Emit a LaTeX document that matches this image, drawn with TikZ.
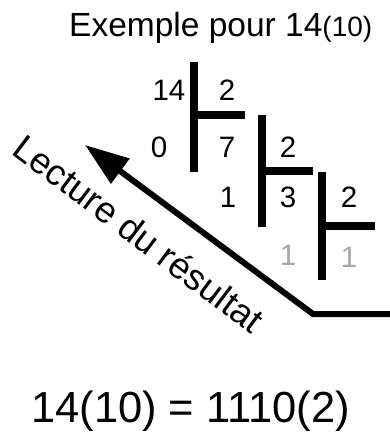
\documentclass[tikz,border=0pt]{standalone}
\usepackage{fontspec}
\setmainfont{Liberation Sans}
\usetikzlibrary{arrows.meta,positioning,calc}
\tikzstyle{digit} = [inner sep=0pt, font=\fontsize{29.5}{29.5}\selectfont]
\tikzstyle{lastdigit} = [digit, text=black!35]
\tikzstyle{bar} = [draw, line width=7.5pt]
\tikzstyle{readline} = [draw, line width=6pt, -{Triangle[length=44pt,width=30pt]}]

\begin{document}
\begin{tikzpicture}[x=1pt, y=-1pt]
    \useasboundingbox (0,0) rectangle (389,434);
    \node [anchor=base west, inner sep=0pt, font=\fontsize{33.5}{33.5}\selectfont] (title) at (69,36) {Exemple pour 14{\fontsize{28}{28}\selectfont(10)}};

    % divisions successives
    \node [digit] (n14) at (169,90) {14};
    \node [digit] (d1) at (227,90) {2};
    \node [digit] (r1) at (159,147) {0};
    \node [digit] (n7) at (227,147) {7};
    \node [digit] (d2) at (288,147) {2};
    \node [digit] (r2) at (228,197) {1};
    \node [digit] (n3) at (288,197) {3};
    \node [digit] (d3) at (349,197) {2};
    \node [lastdigit] (r3) at (288,255) {1};
    \node [lastdigit] (q3) at (349,257) {1};

    \path [bar] (194,62) -- (194,172) (194,115) -- (245,115);
    \path [bar] (262,115) -- (262,227) (262,171) -- (313,171);
    \path [bar] (322,172) -- (322,280) (322,226) -- (375,226);

    % lecture
    \coordinate (rend) at (392,314);
    \coordinate (bend) at (313,314);
    \coordinate (tip) at (85,145);
    \path [readline] (rend) -- (bend) -- (tip);
    \node [anchor=base west, inner sep=0pt, rotate=-37, font=\fontsize{36.5}{36.5}\selectfont] (reading) at (10,153) {Lecture du résultat};

    \node [anchor=base west, inner sep=0pt, font=\fontsize{43.5}{43.5}\selectfont] (result) at (31,422) {14(10) = 1110(2)};
\end{tikzpicture}
\end{document}
